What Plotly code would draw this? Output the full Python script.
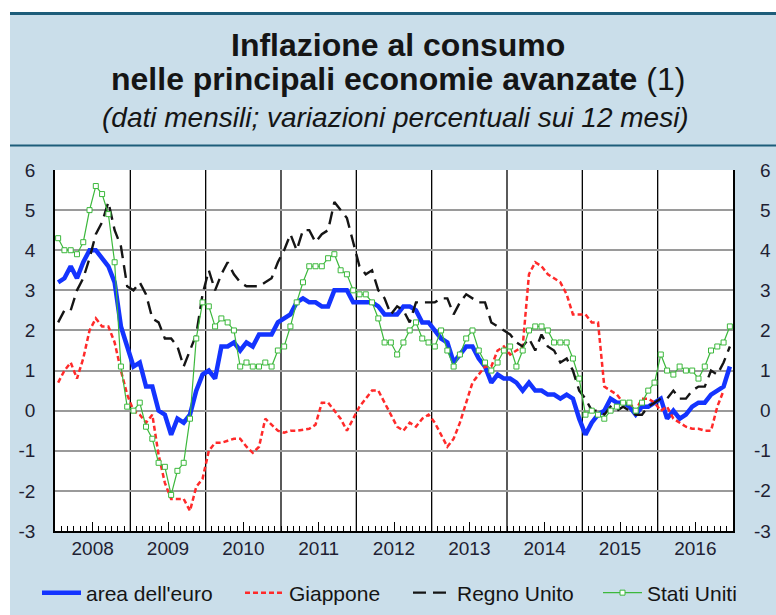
import plotly.graph_objects as go

years = [2008, 2009, 2010, 2011, 2012, 2013, 2014, 2015, 2016]
year_labels = [str(y) for y in years]
y_ticks = [-3, -2, -1, 0, 1, 2, 3, 4, 5, 6]
y_tick_labels = ["-3", "-2", "-1", "0", "1", "2", "3", "4", "5", "6"]

series_names = ["area dell'euro", "Giappone", "Regno Unito", "Stati Uniti"]

euro_area = [
    3.2, 3.3, 3.6, 3.3, 3.7, 4.0, 4.0, 3.8, 3.6, 3.2, 2.1, 1.6,
    1.1, 1.2, 0.6, 0.6, 0.0, -0.1, -0.6, -0.2, -0.3, -0.1, 0.5, 0.9,
    1.0, 0.8, 1.6, 1.6, 1.7, 1.5, 1.7, 1.6, 1.9, 1.9, 1.9, 2.2,
    2.3, 2.4, 2.7, 2.8, 2.7, 2.7, 2.6, 2.6, 3.0, 3.0, 3.0, 2.7,
    2.7, 2.7, 2.7, 2.6, 2.4, 2.4, 2.4, 2.6, 2.6, 2.5, 2.2, 2.2,
    2.0, 1.8, 1.7, 1.2, 1.4, 1.6, 1.6, 1.3, 1.1, 0.7, 0.9, 0.8,
    0.8, 0.7, 0.5, 0.7, 0.5, 0.5, 0.4, 0.4, 0.3, 0.4, 0.3, -0.2,
    -0.6, -0.3, -0.1, 0.0, 0.3, 0.2, 0.2, 0.1, -0.1, 0.1, 0.1, 0.2,
    0.3, -0.2, 0.0, -0.2, -0.1, 0.1, 0.2, 0.2, 0.4, 0.5, 0.6, 1.1,
]

japan = [
    0.7, 1.0, 1.2, 0.8, 1.3, 2.0, 2.3, 2.1, 2.1, 1.7, 1.0, 0.4,
    0.0, -0.1, -0.3, -0.1, -1.1, -1.8, -2.2, -2.2, -2.2, -2.5, -1.9, -1.7,
    -1.0, -0.8, -0.8, -0.75, -0.7, -0.7, -0.9, -1.05, -0.9, -0.2, -0.35, -0.5,
    -0.55, -0.5, -0.5, -0.48, -0.45, -0.35, 0.2, 0.2, 0.0, -0.2, -0.5, -0.2,
    0.1, 0.3, 0.5, 0.5, 0.2, -0.1, -0.4, -0.5, -0.3, -0.4, -0.2, -0.1,
    -0.3, -0.6, -0.9, -0.7, -0.3, 0.2, 0.7, 0.9, 1.1, 1.1, 1.5, 1.6,
    1.4, 1.5, 1.6, 3.4, 3.7, 3.6, 3.4, 3.3, 3.2, 2.9, 2.4, 2.4,
    2.4, 2.2, 2.2, 0.6, 0.5, 0.4, 0.2, 0.2, 0.0, 0.3, 0.3, 0.2,
    0.0, 0.1, -0.2, -0.3, -0.4, -0.45, -0.45, -0.5, -0.5, 0.1, 0.5, None,
]

uk = [
    2.2, 2.5, 2.5, 3.0, 3.3, 3.8, 4.4, 4.7, 5.2, 4.5, 4.1, 3.1,
    3.0, 3.2, 2.9, 2.3, 2.2, 1.8, 1.8, 1.6, 1.1, 1.5, 1.9, 2.9,
    3.5, 3.0, 3.4, 3.7, 3.4, 3.2, 3.1, 3.1, 3.1, 3.2, 3.3, 3.7,
    4.0, 4.4, 4.0, 4.5, 4.5, 4.2, 4.4, 4.5, 5.2, 5.0, 4.8, 4.2,
    3.6, 3.4, 3.5, 3.0, 2.8, 2.4, 2.6, 2.5, 2.2, 2.7, 2.7, 2.7,
    2.7, 2.8, 2.8, 2.4, 2.7, 2.9, 2.8, 2.7, 2.7, 2.2, 2.1, 2.0,
    1.9, 1.7, 1.6, 1.8, 1.5, 1.9, 1.6, 1.5, 1.2, 1.3, 1.0, 0.5,
    0.3, 0.0, 0.0, -0.1, 0.1, 0.0, 0.1, 0.0, -0.1, -0.1, 0.1, 0.2,
    0.3, 0.3, 0.5, 0.3, 0.3, 0.5, 0.6, 0.6, 1.0, 0.9, 1.2, 1.6,
]

us = [
    4.3, 4.0, 4.0, 3.9, 4.2, 5.0, 5.6, 5.4, 4.9, 3.7, 1.1, 0.1,
    0.0, 0.2, -0.4, -0.7, -1.3, -1.4, -2.1, -1.5, -1.3, -0.2, 1.8, 2.7,
    2.6, 2.1, 2.3, 2.2, 2.0, 1.1, 1.2, 1.1, 1.1, 1.2, 1.1, 1.5,
    1.6, 2.1, 2.7, 3.2, 3.6, 3.6, 3.6, 3.8, 3.9, 3.5, 3.4, 3.0,
    2.9, 2.9, 2.7, 2.3, 1.7, 1.7, 1.4, 1.7, 2.0, 2.2, 1.8, 1.7,
    1.6, 2.0, 1.5, 1.1, 1.4, 1.8, 2.0, 1.5, 1.2, 1.0, 1.2, 1.5,
    1.6, 1.1, 1.5, 2.0, 2.1, 2.1, 2.0, 1.7, 1.7, 1.7, 1.3, 0.8,
    -0.1, 0.0, -0.1, -0.2, 0.0, 0.1, 0.2, 0.2, 0.0, 0.2, 0.5, 0.7,
    1.4, 1.0, 0.9, 1.1, 1.0, 1.0, 0.8, 1.1, 1.5, 1.6, 1.7, 2.1,
]

# monthly positions (mid-month) on a fractional-year axis
months = [y + (m + 0.5) / 12 for y in years for m in range(12)]

FONT = "Liberation Sans, Arial, Helvetica, sans-serif"
BG = "#cadeea"
TEAL = "#1d5d7a"
TXT = "#1f1f33"

# plot area in pixels: left 55, right 733, top 170, bottom 531
PL, PR, PT, PB = 55, 733, 170, 531
PW, PH = PR - PL, PB - PT


def px(xpix):
    return (xpix - PL) / PW


def py(ypix):
    return (PB - ypix) / PH


fig = go.Figure()
fig.add_trace(go.Scatter(x=months, y=euro_area, name=series_names[0], mode="lines",
                         legendwidth=149,
                         line=dict(color="#1434ff", width=4.5)))
fig.add_trace(go.Scatter(x=months, y=japan, name=series_names[1], mode="lines",
                         legendwidth=114,
                         line=dict(color="#ff2a2a", width=2.5, dash="5px,3px")))
fig.add_trace(go.Scatter(x=months, y=uk, name=series_names[2], mode="lines",
                         legendwidth=136,
                         line=dict(color="#151515", width=2.4, dash="13px,7px")))
fig.add_trace(go.Scatter(x=months, y=us, name=series_names[3], mode="lines+markers",
                         line=dict(color="#3cb83c", width=1.2),
                         marker=dict(symbol="square", size=5, color="white",
                                     line=dict(color="#3cb83c", width=1))))

x0, x1 = years[0], years[-1] + 1
shapes = []
# white margins around the light blue panel
shapes.append(dict(type="rect", xref="paper", yref="paper", x0=px(-20), x1=px(10),
                   y0=py(640), y1=py(-20), fillcolor="white", line=dict(width=0), layer="below"))
shapes.append(dict(type="rect", xref="paper", yref="paper", x0=px(-20), x1=px(800),
                   y0=py(12), y1=py(-20), fillcolor="white", line=dict(width=0), layer="below"))
shapes.append(dict(type="line", xref="paper", yref="paper", x0=px(10), x1=px(800),
                   y0=py(13.5), y1=py(13.5), line=dict(color=TEAL, width=3)))
shapes.append(dict(type="line", xref="paper", yref="paper", x0=px(10), x1=px(800),
                   y0=py(145.5), y1=py(145.5), line=dict(color=TEAL, width=2)))
# year separators
for y in years[1:]:
    shapes.append(dict(type="line", xref="x", yref="paper", x0=y, x1=y, y0=0, y1=1,
                       line=dict(color="black", width=1.3), layer="below"))

annotations = []
annotations.append(dict(text="<b>Inflazione al consumo</b>", xref="paper", yref="paper",
                        x=px(398), y=py(45), yanchor="middle", showarrow=False,
                        font=dict(family=FONT, size=32, color="#151515")))
annotations.append(dict(text="<b>nelle principali economie avanzate </b>(1)", xref="paper", yref="paper",
                        x=px(398), y=py(79), yanchor="middle", showarrow=False,
                        font=dict(family=FONT, size=32, color="#151515")))
annotations.append(dict(text="<i>(dati mensili; variazioni percentuali sui 12 mesi)</i>", xref="paper", yref="paper",
                        x=px(395), y=py(117), yanchor="middle", showarrow=False,
                        font=dict(family=FONT, size=28, color="#151515")))
for v, t in zip(y_ticks, y_tick_labels):
    annotations.append(dict(text=t, xref="paper", yref="y", x=px(773), y=v, xanchor="right",
                            yanchor="middle", showarrow=False,
                            font=dict(family=FONT, size=19, color=TXT)))

fig.update_layout(
    width=776, height=615,
    margin=dict(l=PL, r=776 - PR, t=PT, b=615 - PB, autoexpand=False),
    paper_bgcolor=BG, plot_bgcolor="white",
    font=dict(family=FONT, color=TXT),
    showlegend=True,
    legend=dict(orientation="h", x=px(37), xanchor="left", y=py(593), yanchor="middle",
                font=dict(family=FONT, size=21, color="#151515"), bgcolor="rgba(0,0,0,0)",
                itemwidth=39),
    shapes=shapes, annotations=annotations,
)
fig.update_xaxes(range=[x0, x1], tickmode="array",
                 tickvals=[y + 0.5 for y in years], ticktext=year_labels,
                 ticks="inside", ticklen=9, tickcolor="black", tickwidth=1.3,
                 ticklabelstandoff=-1,
                 tickfont=dict(family=FONT, size=19, color=TXT),
                 showgrid=False, zeroline=False,
                 showline=True, linecolor="black", linewidth=2,
                 minor=dict(tick0=x0, dtick=1 / 12, ticks="inside", ticklen=5,
                            tickcolor="black", tickwidth=1.2, showgrid=False))
fig.update_yaxes(range=[y_ticks[0], y_ticks[-1]], tickmode="array",
                 tickvals=y_ticks, ticktext=y_tick_labels, ticks="",
                 ticklabelstandoff=14,
                 tickfont=dict(family=FONT, size=19, color=TXT),
                 showgrid=True, gridcolor="#9a9a9a", gridwidth=1.5, zeroline=False,
                 showline=True, linecolor="black", linewidth=1.5, mirror=True)

fig.write_html("out.html", config={"displayModeBar": False},
               post_script="document.body.style.margin='0px';")
